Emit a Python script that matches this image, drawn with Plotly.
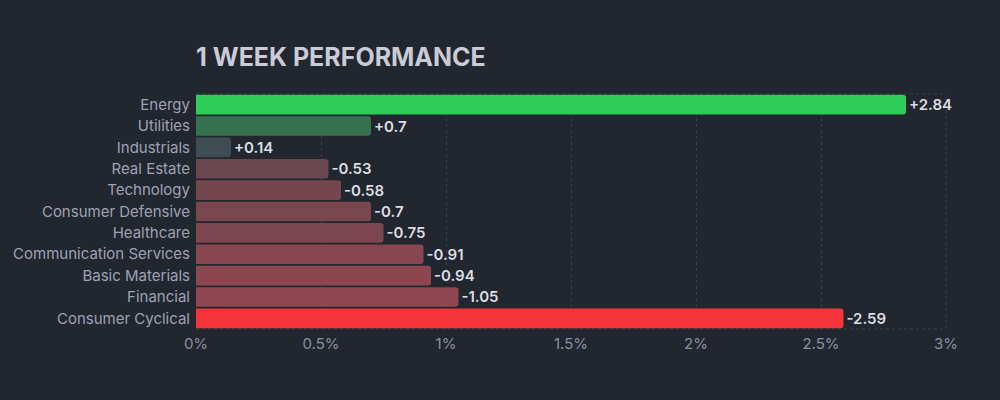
import plotly.graph_objects as go

sectors = ["Energy", "Utilities", "Industrials", "Real Estate", "Technology",
           "Consumer Defensive", "Healthcare", "Communication Services",
           "Basic Materials", "Financial", "Consumer Cyclical"]
changes = [2.84, 0.7, 0.14, -0.53, -0.58, -0.7, -0.75, -0.91, -0.94, -1.05, -2.59]
bar_colors = ["#30cc5a", "#35704f", "#3e4c54", "#6a4650", "#744650", "#7a4650",
              "#7e4650", "#884650", "#8b4650", "#8f4650", "#f6353b"]
tick_vals = [0, 0.5, 1, 1.5, 2, 2.5, 3]
tick_text = ["0%", "0.5%", "1%", "1.5%", "2%", "2.5%", "3%"]

labels = [("+" if v > 0 else "") + f"{v:g}" for v in changes]
mags = [abs(v) for v in changes]

fig = go.Figure(go.Bar(
    x=mags, y=sectors, orientation="h",
    marker=dict(color=bar_colors, line=dict(width=0), cornerradius=3),
    text=labels, textposition="outside", cliponaxis=False,
    textfont=dict(family="Inter", size=15, color="#dcdde3", weight=600),
    hoverinfo="skip",
))

grid = "#3a3f4c"
dash = "3px,3px"
fig.update_layout(
    width=1000, height=400,
    paper_bgcolor="#22262f", plot_bgcolor="#22262f",
    margin=dict(l=196, r=54, t=94, b=71),
    bargap=0.08,
    showlegend=False,
    title=dict(text="<b>1 WEEK PERFORMANCE</b>", x=196/1000, xanchor="left",
               y=1-57/400, yanchor="middle",
               font=dict(family="Inter", size=25, color="#c9cbd6")),
    xaxis=dict(range=[0, 3], tickvals=tick_vals, ticktext=tick_text,
               showgrid=True, gridcolor=grid, griddash=dash, gridwidth=1,
               zeroline=False, showline=False,
               tickfont=dict(family="Inter", size=15, color="#8b90a3"),
               ticks="", ticklabelstandoff=4, fixedrange=True),
    yaxis=dict(categoryorder="array", categoryarray=sectors, autorange="reversed",
               showgrid=False, zeroline=False, showline=False, ticks="",
               tickfont=dict(family="Inter", size=15, color="#9ea2b4"),
               ticklabelstandoff=5, fixedrange=True),
    shapes=[
        dict(type="line", xref="paper", yref="paper", x0=0, x1=1, y0=1, y1=1,
             layer="below", line=dict(color=grid, width=1, dash=dash)),
        dict(type="line", xref="paper", yref="paper", x0=0, x1=1, y0=0, y1=0,
             layer="below", line=dict(color=grid, width=1, dash=dash)),
        dict(type="line", xref="paper", yref="paper", x0=1, x1=1, y0=0, y1=1,
             layer="below", line=dict(color=grid, width=1, dash=dash)),
    ],
)

fig.write_html(
    "out.html",
    config={"displayModeBar": False, "staticPlot": False},
    post_script="document.body.style.margin='0';document.body.style.background='#22262f';document.body.style.overflow='hidden';",
)
